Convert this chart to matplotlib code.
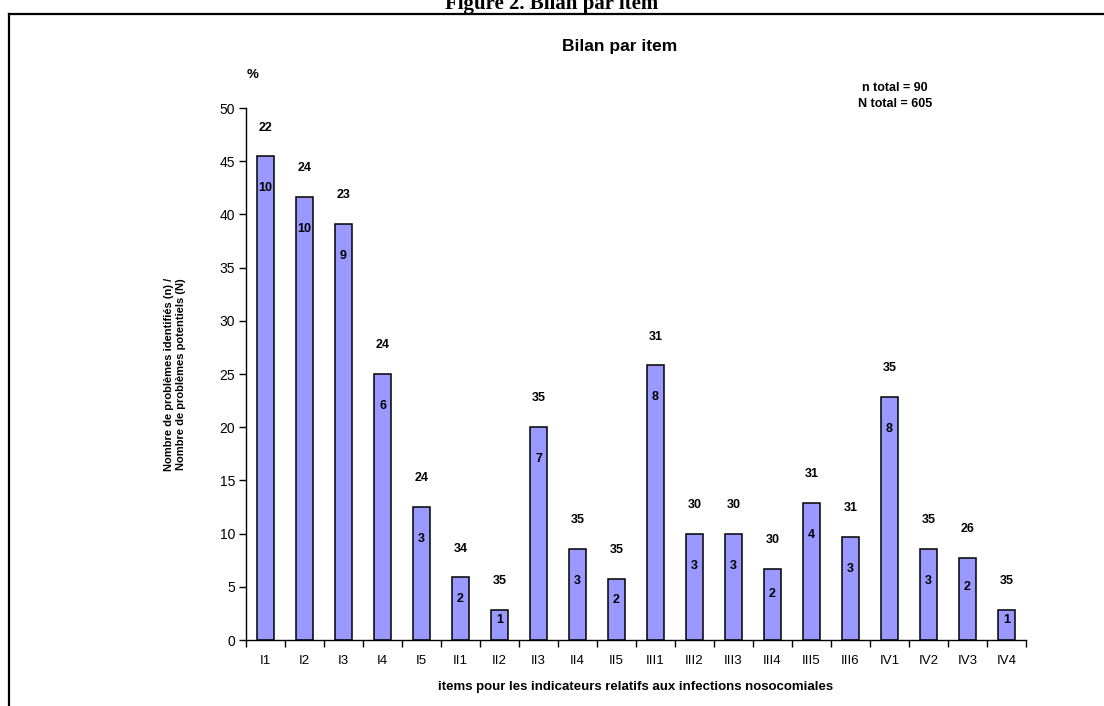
import matplotlib
matplotlib.use("Agg")
import matplotlib.pyplot as plt
from matplotlib.lines import Line2D
import numpy as np

plt.rcParams['font.family'] = ['Liberation Sans', 'DejaVu Sans']

items = ['I1', 'I2', 'I3', 'I4', 'I5', 'II1', 'II2', 'II3', 'II4', 'II5',
         'III1', 'III2', 'III3', 'III4', 'III5', 'III6', 'IV1', 'IV2', 'IV3', 'IV4']
# problems identified (n) and potential problems (N) per item
n_ident = [10, 10, 9, 6, 3, 2, 1, 7, 3, 2, 8, 3, 3, 2, 4, 3, 8, 3, 2, 1]
N_pot = [22, 24, 23, 24, 24, 34, 35, 35, 35, 35, 31, 30, 30, 30, 31, 31, 35, 35, 26, 35]

pct = [100.0 * a / b for a, b in zip(n_ident, N_pot)]
x = np.arange(len(items))

fig = plt.figure(figsize=(11.04, 7.06), dpi=100)
ax = fig.add_axes([246 / 1104, 1 - 640 / 706, 780 / 1104, 532 / 706])

ax.bar(x, pct, width=0.42, color='#9999FF', edgecolor='black', linewidth=1.1, zorder=2)

for xi, h, a, b in zip(x, pct, n_ident, N_pot):
    ax.text(xi, h + 2.7, str(b), ha='center', va='center', fontsize=9, fontweight='bold')
    ax.text(xi, h - min(3.0, h * 0.35), str(a), ha='center', va='center',
            fontsize=9, fontweight='bold')

ax.set_xlim(-0.5, len(items) - 0.5)
ax.set_ylim(0, 50)
ax.set_yticks(np.arange(0, 51, 5))
ax.tick_params(axis='y', direction='out', length=5, width=1, labelsize=10, pad=3)

# ticks on the category boundaries, labels centred under the bars
ax.set_xticks(np.arange(-0.5, len(items), 1.0))
ax.set_xticklabels([])
ax.set_xticks(x, minor=True)
ax.set_xticklabels(items, minor=True, fontsize=9.5)
ax.tick_params(axis='x', which='major', direction='out', length=5, width=1)
ax.tick_params(axis='x', which='minor', length=0, pad=11)

for side in ['top', 'right']:
    ax.spines[side].set_visible(False)
for side in ['left', 'bottom']:
    ax.spines[side].set_linewidth(1)

ax.set_xlabel('items pour les indicateurs relatifs aux infections nosocomiales',
              fontsize=9.5, fontweight='bold', labelpad=10)
ax.set_ylabel('Nombre de problèmes identifiés (n) /\nNombre de problèmes potentiels (N)',
              fontsize=8, fontweight='bold', labelpad=24)

fig.text(620 / 1104, 1 - 47 / 706, 'Bilan par item', ha='center', va='center',
         fontsize=12.5, fontweight='bold')
fig.text(253 / 1104, 1 - 75 / 706, '%', ha='center', va='center',
         fontsize=9.5, fontweight='bold')
fig.text(895 / 1104, 1 - 88 / 706, 'n total = 90', ha='center', va='center',
         fontsize=9, fontweight='bold')
fig.text(895 / 1104, 1 - 104 / 706, 'N total = 605', ha='center', va='center',
         fontsize=9, fontweight='bold')

fig.text(552 / 1104, 1 - 9 / 706, 'Figure 2. Bilan par item', ha='center', va='baseline',
         fontsize=15, fontweight='bold', family=['Liberation Serif', 'DejaVu Serif'])

# frame around the chart
fig.add_artist(Line2D([9 / 1104, 9 / 1104], [0, 1 - 14 / 706], color='black', linewidth=1.6))
fig.add_artist(Line2D([9 / 1104, 1.0], [1 - 14 / 706, 1 - 14 / 706], color='black', linewidth=1.6))

fig.savefig('out.png', dpi=100)
